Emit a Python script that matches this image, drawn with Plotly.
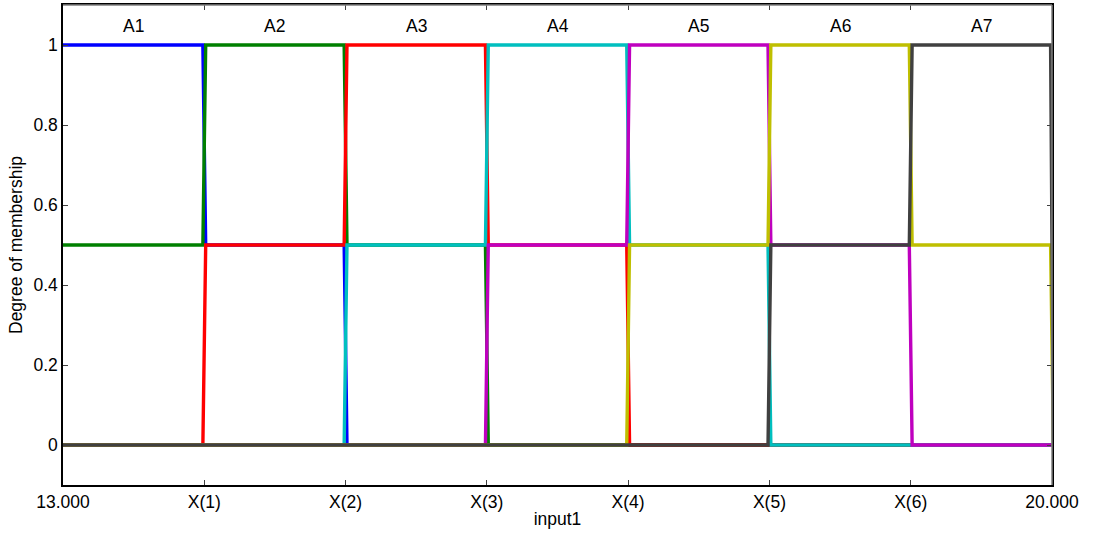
import plotly.graph_objects as go

# Interval boundaries on input1 (13 .. 20) and tick labels
boundaries = [13, 14, 15, 16, 17, 18, 19, 20]
tick_labels = ["13.000", "X(1)", "X(2)", "X(3)", "X(4)", "X(5)", "X(6)", "20.000"]

# Membership level of each fuzzy set on each of the 7 intervals
A1 = [1, 0.5, 0, 0, 0, 0, 0]
A2 = [0.5, 1, 0.5, 0, 0, 0, 0]
A3 = [0, 0.5, 1, 0.5, 0, 0, 0]
A4 = [0, 0, 0.5, 1, 0.5, 0, 0]
A5 = [0, 0, 0, 0.5, 1, 0.5, 0]
A6 = [0, 0, 0, 0, 0.5, 1, 0.5]
A7 = [0, 0, 0, 0, 0, 0.5, 1]

set_names = ["A1", "A2", "A3", "A4", "A5", "A6", "A7"]
set_levels = [A1, A2, A3, A4, A5, A6, A7]
colors = ["#0000FF", "#008000", "#FF0000", "#00BFBF", "#BF00BF", "#BFBF00", "#404040"]

EPS = 0.01


def step_path(levels):
    xs, ys = [], []
    for j, v in enumerate(levels):
        a, b = boundaries[j], boundaries[j + 1]
        xa = a if j == 0 else a + EPS
        xb = b - EPS
        xs += [xa, xb]
        ys += [v, v]
    xs.append(boundaries[-1] + EPS)
    ys.append(0)
    return xs, ys


fig = go.Figure()
for name, lv, c in zip(set_names, set_levels, colors):
    xs, ys = step_path(lv)
    fig.add_trace(go.Scatter(x=xs, y=ys, mode="lines", name=name,
                             line=dict(color=c, width=3.4), showlegend=False))

for j, name in enumerate(set_names):
    fig.add_annotation(x=(boundaries[j] + boundaries[j + 1]) / 2, y=1.048,
                       text=name, showarrow=False, xref="x", yref="y",
                       font=dict(size=17.5, color="black"))

fig.add_shape(type="line", xref="paper", yref="paper", x0=0, x1=1, y0=1, y1=1,
              line=dict(color="#7f7f7f", width=1.5), layer="above")
fig.add_shape(type="line", xref="paper", yref="paper", x0=1, x1=1, y0=0, y1=1,
              line=dict(color="#7f7f7f", width=1.5), layer="above")

fig.update_layout(
    width=1096, height=534,
    margin=dict(l=63, r=44, t=5, b=49, autoexpand=False),
    paper_bgcolor="white", plot_bgcolor="white",
    font=dict(family="Liberation Sans, Arial, sans-serif", size=17.5, color="black"),
    xaxis=dict(range=[13, 20], tickvals=boundaries, ticktext=tick_labels,
               showgrid=False, zeroline=False, showline=True, linecolor="black",
               linewidth=1.5, mirror="ticks", ticks="inside", ticklen=5,
               tickcolor="#404040", automargin=False,
               title=dict(text="input1", standoff=2, font=dict(size=17.5))),
    yaxis=dict(range=[-0.1, 1.1], tickvals=[0, 0.2, 0.4, 0.6, 0.8, 1],
               ticktext=["0", "0.2", "0.4", "0.6", "0.8", "1"],
               showgrid=False, zeroline=False, showline=True, linecolor="black",
               linewidth=1.5, mirror="ticks", ticks="inside", ticklen=5,
               tickcolor="#404040", automargin=False,
               title=dict(text="Degree of membership", standoff=6, font=dict(size=17.5))),
)

fig.write_html("out.html", config={"displayModeBar": False},
               post_script="document.body.style.margin='0';document.body.style.padding='0';")
